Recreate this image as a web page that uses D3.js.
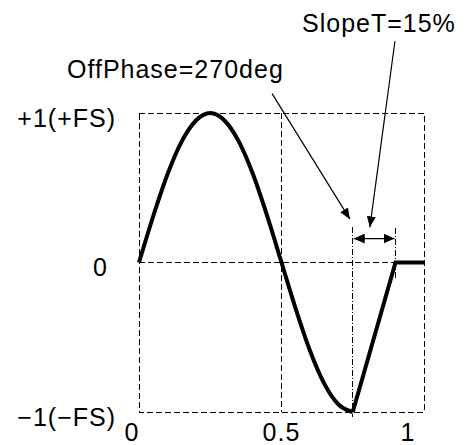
<!DOCTYPE html>
<html>
<head>
<meta charset="utf-8">
<script src="https://cdn.jsdelivr.net/npm/d3@7"></script>
<style>
  html, body { margin: 0; padding: 0; background: #fff; }
  svg text { font-family: "Liberation Sans", Arial, sans-serif; fill: #000; letter-spacing: 1px; }
</style>
</head>
<body>
<div id="chart"></div>
<script>
// sine part of the output (x in period, y in FS)
const sineX = [0, 0.05, 0.1, 0.15, 0.2, 0.25, 0.3, 0.35, 0.4, 0.45, 0.5,
               0.55, 0.6, 0.65, 0.7, 0.75];
const sineY = [0, 0.31, 0.59, 0.81, 0.95, 1, 0.95, 0.81, 0.59, 0.31, 0,
               -0.31, -0.59, -0.81, -0.95, -1];
// slope back to zero, then held at zero
const slopeX = [0.75, 0.9, 1.0];
const slopeY = [-1, 0, 0];

const xTicks = [0, 0.5, 1];
const xTickLabels = ['0', '0.5', '1'];
const yTicks = [1, 0, -1];
const yTickLabels = ['+1(+FS)', '0', '\u22121(\u2212FS)'];

const offPhase = 0.75;   // 270deg
const slopeT = 0.15;     // 15%

const width = 471, height = 445;

const svg = d3.select('#chart')
    .append('svg')
    .attr('width', width)
    .attr('height', height);

const x = d3.scaleLinear().domain([0, 1]).range([139, 424]);
const y = d3.scaleLinear().domain([-1, 1]).range([412, 113]);

const defs = svg.append('defs');
function arrowMarker(id, len, wid) {
    defs.append('marker')
        .attr('id', id)
        .attr('markerUnits', 'userSpaceOnUse')
        .attr('viewBox', `0 ${-wid / 2} ${len} ${wid}`)
        .attr('refX', len)
        .attr('refY', 0)
        .attr('markerWidth', len)
        .attr('markerHeight', wid)
        .attr('orient', 'auto-start-reverse')
        .append('path')
        .attr('d', `M0,${-wid / 2}L${len},0L0,${wid / 2}Z`)
        .attr('fill', '#000');
}
arrowMarker('arrow', 11, 9);
arrowMarker('arrow2', 11, 10);

// dashed frame
const grid = svg.append('g')
    .attr('fill', 'none')
    .attr('stroke', '#000')
    .attr('stroke-width', 1)
    .attr('shape-rendering', 'crispEdges')
    .attr('stroke-dasharray', '6,3');
grid.append('rect')
    .attr('x', x(0)).attr('y', y(1))
    .attr('width', x(1) - x(0)).attr('height', y(-1) - y(1));
grid.append('line')
    .attr('x1', x(0.5)).attr('x2', x(0.5))
    .attr('y1', y(1)).attr('y2', y(-1));
grid.append('line')
    .attr('x1', x(0)).attr('x2', x(1))
    .attr('y1', y(0)).attr('y2', y(0));

// dash-dot markers for OffPhase and end of slope
const dd = svg.append('g')
    .attr('stroke', '#000')
    .attr('stroke-width', 1)
    .attr('shape-rendering', 'crispEdges')
    .attr('stroke-dasharray', '6,2,1,2');
dd.append('line')
    .attr('x1', x(offPhase)).attr('x2', x(offPhase))
    .attr('y1', y(0.24)).attr('y2', y(-1.035));
dd.append('line')
    .attr('x1', x(offPhase + slopeT)).attr('x2', x(offPhase + slopeT))
    .attr('y1', y(0.23)).attr('y2', y(-0.12));

// waveform
const line = d3.line()
    .x(d => x(d[0]))
    .y(d => y(d[1]));
const wave = svg.append('g')
    .attr('fill', 'none')
    .attr('stroke', '#000')
    .attr('stroke-width', 4);
wave.append('path')
    .attr('d', line.curve(d3.curveMonotoneX)(sineX.map((v, i) => [v, sineY[i]])));
wave.append('path')
    .attr('stroke-linejoin', 'miter')
    .attr('d', line.curve(d3.curveLinear)(slopeX.map((v, i) => [v, slopeY[i]])));

// annotations
const ann = svg.append('g')
    .attr('stroke', '#000')
    .attr('stroke-width', 1.2);
ann.append('line')
    .attr('x1', x(0.467)).attr('y1', y(1.13))
    .attr('x2', x(0.74)).attr('y2', y(0.29))
    .attr('marker-end', 'url(#arrow)');
ann.append('line')
    .attr('x1', x(0.898)).attr('y1', y(1.48))
    .attr('x2', x(0.81)).attr('y2', y(0.235))
    .attr('marker-end', 'url(#arrow)');
ann.append('line')
    .attr('x1', x(offPhase) + 1).attr('y1', y(0.16))
    .attr('x2', x(offPhase + slopeT) - 1).attr('y2', y(0.16))
    .attr('marker-start', 'url(#arrow2)')
    .attr('marker-end', 'url(#arrow2)');

svg.append('text')
    .attr('x', 67).attr('y', 78)
    .attr('font-size', 25)
    .text('OffPhase=270deg');
svg.append('text')
    .attr('x', 302).attr('y', 32)
    .attr('font-size', 25)
    .text('SlopeT=15%');

// y labels
const yNudge = [0, -8, 0];
svg.append('g')
    .selectAll('text')
    .data(yTicks)
    .join('text')
    .attr('x', (d, i) => 116 + yNudge[i])
    .attr('y', d => y(d) + 5)
    .attr('dy', '0.35em')
    .attr('text-anchor', 'end')
    .attr('font-size', 25)
    .text((d, i) => yTickLabels[i]);

// x labels
const xNudge = [-7, 0, -16];
svg.append('g')
    .selectAll('text')
    .data(xTicks)
    .join('text')
    .attr('x', (d, i) => x(d) + xNudge[i])
    .attr('y', 441)
    .attr('text-anchor', 'middle')
    .attr('font-size', 25)
    .text((d, i) => xTickLabels[i]);
</script>
</body>
</html>
